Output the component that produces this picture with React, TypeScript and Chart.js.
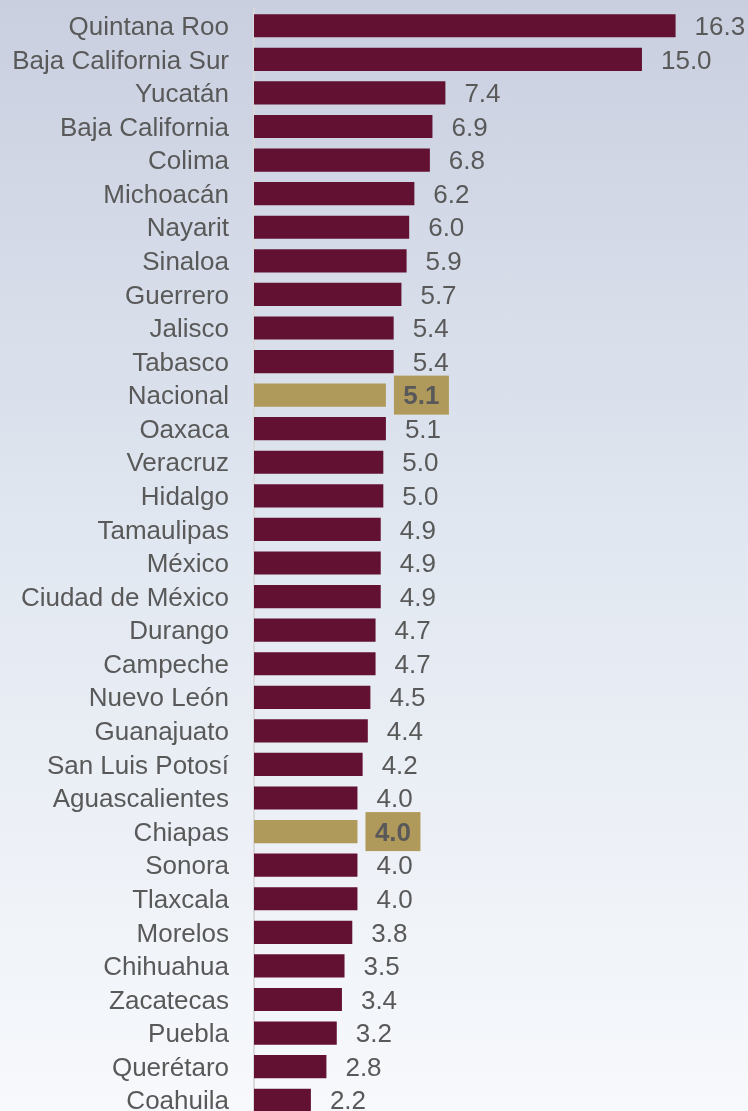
import React, { useEffect, useRef } from "react";
import { Chart, registerables } from "chart.js";

Chart.register(...registerables);

const categories: string[] = [
  "Quintana Roo", "Baja California Sur", "Yucatán", "Baja California", "Colima",
  "Michoacán", "Nayarit", "Sinaloa", "Guerrero", "Jalisco", "Tabasco", "Nacional",
  "Oaxaca", "Veracruz", "Hidalgo", "Tamaulipas", "México", "Ciudad de México",
  "Durango", "Campeche", "Nuevo León", "Guanajuato", "San Luis Potosí",
  "Aguascalientes", "Chiapas", "Sonora", "Tlaxcala", "Morelos", "Chihuahua",
  "Zacatecas", "Puebla", "Querétaro", "Coahuila",
];

const values: number[] = [
  16.3, 15.0, 7.4, 6.9, 6.8, 6.2, 6.0, 5.9, 5.7, 5.4, 5.4, 5.1,
  5.1, 5.0, 5.0, 4.9, 4.9, 4.9, 4.7, 4.7, 4.5, 4.4, 4.2,
  4.0, 4.0, 4.0, 4.0, 3.8, 3.5, 3.4, 3.2, 2.8, 2.2,
];

const highlighted: string[] = ["Nacional", "Chiapas"];

const MAROON = "#621132";
const GOLD = "#B09A5B";
const TEXT = "#595959";
const FONT = "'Liberation Sans', Arial, sans-serif";

const valueLabels = {
  id: "valueLabels",
  afterDatasetsDraw(chart: any) {
    const ctx = chart.ctx;
    const meta = chart.getDatasetMeta(0);
    ctx.save();
    meta.data.forEach((bar: any, i: number) => {
      const v = values[i];
      const txt = v.toFixed(1);
      const hl = highlighted.includes(categories[i]);
      ctx.textBaseline = "middle";
      if (hl) {
        const bx = bar.x + 8;
        const bw = 55;
        const bh = 39;
        ctx.fillStyle = GOLD;
        ctx.fillRect(bx, bar.y - bh / 2, bw, bh);
        ctx.font = `bold 26px ${FONT}`;
        ctx.fillStyle = TEXT;
        ctx.textAlign = "center";
        ctx.fillText(txt, bx + bw / 2, bar.y + 2);
      } else {
        ctx.font = `26px ${FONT}`;
        ctx.fillStyle = TEXT;
        ctx.textAlign = "left";
        ctx.fillText(txt, bar.x + 19, bar.y + 2);
      }
    });
    ctx.restore();
  },
};

export default function App() {
  const ref = useRef<HTMLCanvasElement | null>(null);

  useEffect(() => {
    document.body.style.margin = "0";
    if (!ref.current) return;
    const chart = new Chart(ref.current, {
      type: "bar",
      data: {
        labels: categories,
        datasets: [
          {
            data: values,
            backgroundColor: categories.map((c) => (highlighted.includes(c) ? GOLD : MAROON)),
            borderWidth: 0,
            barPercentage: 0.69,
            categoryPercentage: 1,
          },
        ],
      },
      options: {
        indexAxis: "y",
        responsive: false,
        animation: false,
        devicePixelRatio: 1,
        layout: { padding: { top: 9, right: 0, bottom: 0, left: 0 } },
        plugins: {
          legend: { display: false },
          tooltip: { enabled: false },
          title: { display: false },
        },
        scales: {
          x: { display: false, min: 0, max: 19.1 },
          y: {
            grid: { display: false, drawTicks: false },
            border: { display: true, color: "#d9d9d9", width: 2 },
            ticks: {
              color: TEXT,
              font: { family: FONT, size: 26 },
              padding: 25,
              labelOffset: 2,
              autoSkip: false,
            },
            afterFit: (s: any) => {
              s.width = 254;
              s.paddingTop = 0;
              s.paddingBottom = 0;
            },
          },
        },
      } as any,
      plugins: [valueLabels],
    });
    return () => chart.destroy();
  }, []);

  return (
    <div
      style={{
        position: "absolute",
        left: 0,
        top: 0,
        width: 748,
        height: 1111,
        overflow: "hidden",
        background: "linear-gradient(to bottom, #c9cfdf 0%, #e2e8f1 50%, #f7f9fc 100%)",
      }}
    >
      <canvas ref={ref} width={748} height={1117} style={{ display: "block" }} />
    </div>
  );
}
